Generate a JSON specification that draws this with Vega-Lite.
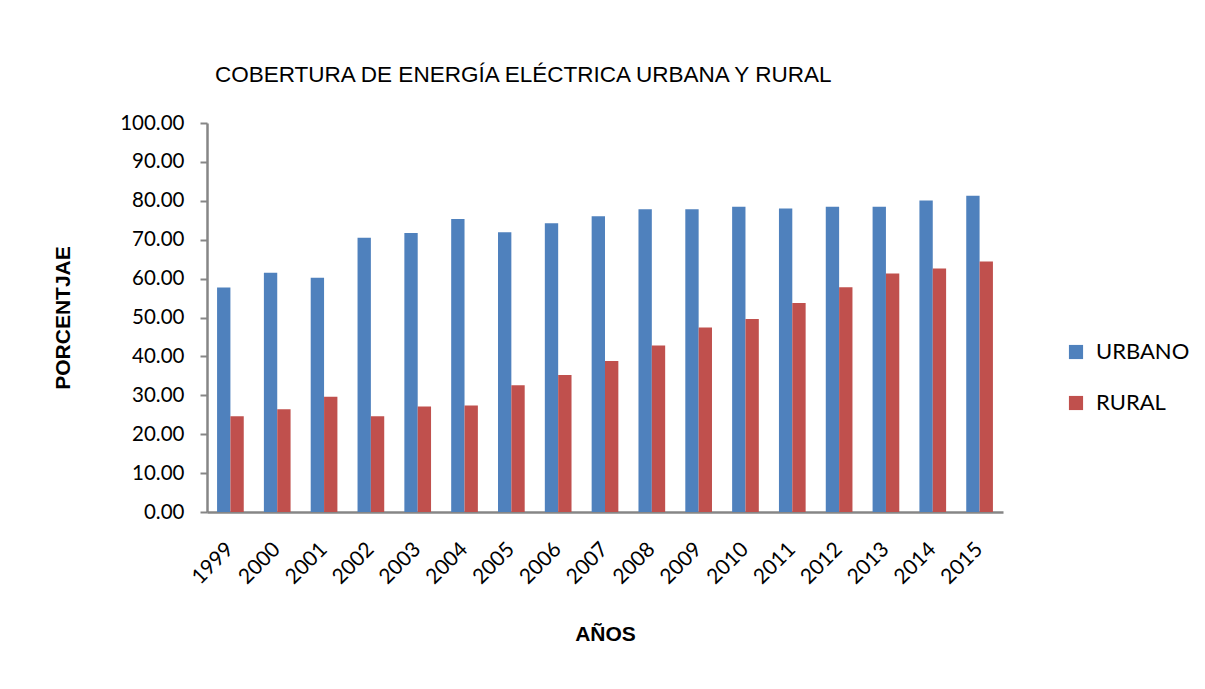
{
  "$schema": "https://vega.github.io/schema/vega-lite/v6.json",
  "width": 796,
  "height": 389,
  "autosize": {"type": "none"},
  "padding": {"left": 207, "top": 123, "right": 202, "bottom": 177},
  "background": "white",
  "title": {
    "text": "COBERTURA DE ENERGÍA ELÉCTRICA URBANA Y RURAL",
    "anchor": "start",
    "frame": "group",
    "dx": 8,
    "offset": 27,
    "font": "Liberation Sans",
    "fontSize": 22.5,
    "fontWeight": "normal",
    "color": "#000000"
  },
  "data": {
    "values": [
      {"anio": "1999", "serie": "URBANO", "valor": 57.7}, {"anio": "1999", "serie": "RURAL", "valor": 24.6},
      {"anio": "2000", "serie": "URBANO", "valor": 61.5}, {"anio": "2000", "serie": "RURAL", "valor": 26.4},
      {"anio": "2001", "serie": "URBANO", "valor": 60.2}, {"anio": "2001", "serie": "RURAL", "valor": 29.6},
      {"anio": "2002", "serie": "URBANO", "valor": 70.5}, {"anio": "2002", "serie": "RURAL", "valor": 24.6},
      {"anio": "2003", "serie": "URBANO", "valor": 71.7}, {"anio": "2003", "serie": "RURAL", "valor": 27.1},
      {"anio": "2004", "serie": "URBANO", "valor": 75.3}, {"anio": "2004", "serie": "RURAL", "valor": 27.4},
      {"anio": "2005", "serie": "URBANO", "valor": 71.9}, {"anio": "2005", "serie": "RURAL", "valor": 32.6},
      {"anio": "2006", "serie": "URBANO", "valor": 74.2}, {"anio": "2006", "serie": "RURAL", "valor": 35.2},
      {"anio": "2007", "serie": "URBANO", "valor": 76.0}, {"anio": "2007", "serie": "RURAL", "valor": 38.8},
      {"anio": "2008", "serie": "URBANO", "valor": 77.8}, {"anio": "2008", "serie": "RURAL", "valor": 42.8},
      {"anio": "2009", "serie": "URBANO", "valor": 77.8}, {"anio": "2009", "serie": "RURAL", "valor": 47.4},
      {"anio": "2010", "serie": "URBANO", "valor": 78.5}, {"anio": "2010", "serie": "RURAL", "valor": 49.6},
      {"anio": "2011", "serie": "URBANO", "valor": 78.0}, {"anio": "2011", "serie": "RURAL", "valor": 53.7},
      {"anio": "2012", "serie": "URBANO", "valor": 78.5}, {"anio": "2012", "serie": "RURAL", "valor": 57.8},
      {"anio": "2013", "serie": "URBANO", "valor": 78.5}, {"anio": "2013", "serie": "RURAL", "valor": 61.3},
      {"anio": "2014", "serie": "URBANO", "valor": 80.1}, {"anio": "2014", "serie": "RURAL", "valor": 62.6},
      {"anio": "2015", "serie": "URBANO", "valor": 81.3}, {"anio": "2015", "serie": "RURAL", "valor": 64.4}
    ]
  },
  "mark": {"type": "bar"},
  "encoding": {
    "x": {
      "field": "anio",
      "type": "ordinal",
      "scale": {"paddingInner": 0.43, "paddingOuter": 0.215},
      "axis": {
        "title": "AÑOS",
        "titleFont": "Liberation Sans",
        "titleFontSize": 21,
        "titleFontWeight": "bold",
        "titleColor": "#000000",
        "titlePadding": 36,
        "labelAngle": -45,
        "labelAlign": "right",
        "labelBaseline": "middle",
        "labelFont": "Lato",
        "labelFontSize": 21,
        "labelColor": "#000000",
        "labelPadding": 34,
        "ticks": false,
        "domainColor": "#868686",
        "domainWidth": 2.5
      }
    },
    "xOffset": {"field": "serie", "type": "nominal", "sort": ["URBANO", "RURAL"]},
    "y": {
      "field": "valor",
      "type": "quantitative",
      "scale": {"domain": [0, 100], "nice": false},
      "axis": {
        "title": "PORCENTJAE",
        "titleFont": "Liberation Sans",
        "titleFontSize": 21,
        "titleFontWeight": "bold",
        "titleColor": "#000000",
        "titlePadding": 46,
        "values": [0, 10, 20, 30, 40, 50, 60, 70, 80, 90, 100],
        "format": ".2f",
        "labelFont": "Lato",
        "labelFontSize": 20.5,
        "labelColor": "#000000",
        "labelPadding": 16,
        "grid": false,
        "tickSize": 7,
        "tickColor": "#868686",
        "tickWidth": 2,
        "domainColor": "#868686",
        "domainWidth": 2.5
      }
    },
    "color": {
      "field": "serie",
      "type": "nominal",
      "sort": ["URBANO", "RURAL"],
      "scale": {"domain": ["URBANO", "RURAL"], "range": ["#4F81BD", "#C0504D"]},
      "legend": {
        "title": null,
        "orient": "none",
        "legendX": 858,
        "legendY": 218,
        "symbolType": "square",
        "symbolSize": 200,
        "symbolStrokeWidth": 0,
        "labelFont": "Lato",
        "labelFontSize": 22,
        "labelColor": "#000000",
        "labelOffset": 9,
        "rowPadding": 29
      }
    }
  },
  "config": {"view": {"stroke": null}}
}
